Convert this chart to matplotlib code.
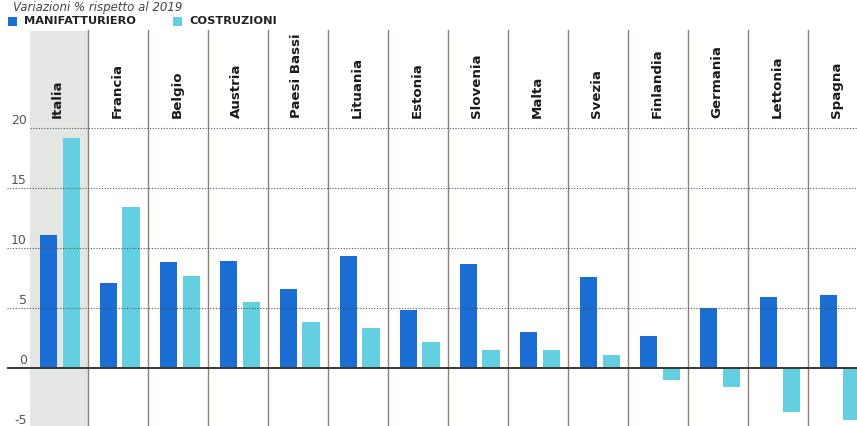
import matplotlib
matplotlib.use("Agg")
import matplotlib.pyplot as plt
import matplotlib.patches as mpatches

countries = ["Italia", "Francia", "Belgio", "Austria", "Paesi Bassi", "Lituania", "Estonia",
             "Slovenia", "Malta", "Svezia", "Finlandia", "Germania", "Lettonia", "Spagna"]
manifatturiero = [11.1, 7.1, 8.8, 8.9, 6.6, 9.3, 4.8, 8.7, 3.0, 7.6, 2.7, 5.0, 5.9, 6.1]
costruzioni = [19.2, 13.4, 7.7, 5.5, 3.8, 3.3, 2.2, 1.5, 1.5, 1.1, -1.0, -1.6, -3.7, -4.3]
yticks = [-5, 0, 5, 10, 15, 20]
series_names = ["MANIFATTURIERO", "COSTRUZIONI"]
subtitle = "Variazioni % rispetto al 2019"

C_MAN = "#1a6dd2"
C_COS = "#63cfe0"
C_SHADE = "#e3e6e2"
C_SEP = "#8d8275"

W, H = 857, 426
fig = plt.figure(figsize=(W / 100, H / 100), dpi=100)
ax = fig.add_axes([0, 0, 1, 1])
# pixel mapping: x_pix = 58 + 60*i ; y_pix = 368 - 12*v
ax.set_xlim((0 - 58) / 60, (W - 58) / 60)
ax.set_ylim((368 - H) / 12, (368 - 0) / 12)
ax.axis("off")

top_v = (368 - 31) / 12
bottom_v = (368 - H) / 12

# Italia shading
ax.add_patch(mpatches.Rectangle((-0.47, bottom_v), 0.97, top_v - bottom_v,
                                facecolor=C_SHADE, edgecolor="none", zorder=0))
# separators
for i in range(len(countries)):
    ax.plot([i + 0.5, i + 0.5], [bottom_v, top_v + 0.1], color=C_SEP, lw=1.0, zorder=1)

n = len(countries)
xs = list(range(n))
bw = 0.29
ax.bar([x - 0.16 for x in xs], manifatturiero, width=bw, color=C_MAN, zorder=2, linewidth=0)
ax.bar([x + 0.22 for x in xs], costruzioni, width=bw, color=C_COS, zorder=2, linewidth=0)

# gridlines
xl = ax.get_xlim()
for t in yticks:
    if t in (0, -5):
        continue
    start = -0.47 if t == 20 else (7 - 58) / 60
    ax.plot([start, xl[1]], [t, t], color="#555555", lw=0.8,
            linestyle=(0, (1, 1.5)), zorder=3)
ax.plot([(8 - 58) / 60, xl[1]], [0, 0], color="#3a3530", lw=1.4, zorder=4)

# tick labels
for t in yticks:
    ax.text((27 - 58) / 60, t + 0.12, str(t), ha="right", va="bottom",
            fontsize=9, color="#555555", zorder=5)

# country labels
for i, c in enumerate(countries):
    ax.text(i - 0.02, (368 - 118) / 12, c, rotation=90, ha="center", va="bottom",
            fontsize=9.6, fontweight="bold", color="#1a1a1a", zorder=5)

# legend (figure pixel coords)
def px(x, y):
    return x / W, 1 - y / H

for (x0, name, col) in [(8, series_names[0], C_MAN), (173, series_names[1], C_COS)]:
    fx, fy = px(x0, 26)
    fig.patches.append(mpatches.Rectangle((fx, fy), 9 / W, 9 / H, transform=fig.transFigure,
                                          facecolor=col, edgecolor="none"))
    tx, ty = px(x0 + 16, 21.5)
    fig.text(tx, ty, name, ha="left", va="center", fontsize=8.2, fontweight="bold",
             color="#222222")

sx, sy = px(13, 0.5)
fig.text(sx, sy, subtitle, ha="left", va="top", fontsize=8.5, style="italic",
         color="#444444")

fig.savefig("out.png", dpi=100)
